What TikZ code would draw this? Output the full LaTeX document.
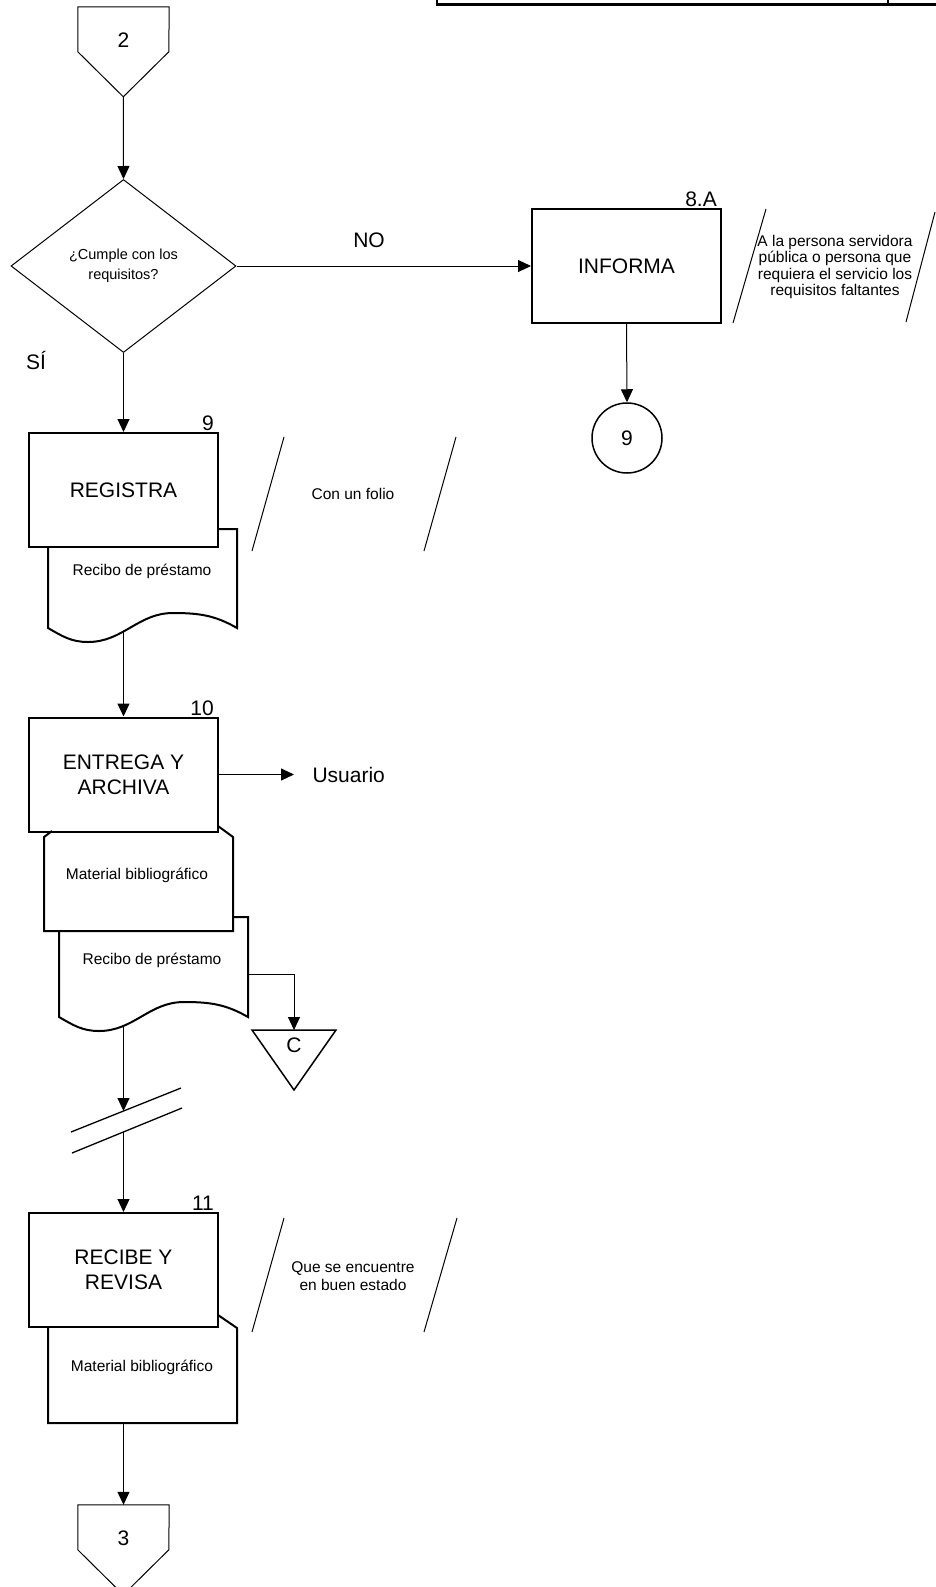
\documentclass[tikz,border=0pt]{standalone}
\usepackage{fontspec}
\setmainfont{Liberation Sans}
\usetikzlibrary{shapes.geometric, arrows.meta, positioning}
\tikzset{
    >={Triangle[length=13pt, width=12pt]}, % filled arrow heads
    every node/.style={font=\fontsize{21}{25}\selectfont, align=center}, % big labels
    smalltext/.style={font=\fontsize{15.5}{18}\selectfont}, % notes and documents
    process/.style={draw, line width=2pt, fill=white, minimum width=189pt, minimum height=114pt, inner sep=0pt},
    decision/.style={diamond, draw, line width=1pt, aspect=1.3, minimum width=225pt, minimum height=173pt, inner sep=0pt},
    offpage/.style={minimum width=91pt, minimum height=66pt, inner sep=0pt},
    onpage/.style={circle, draw, line width=1.5pt, minimum size=70pt, inner sep=0pt},
    stepnum/.style={anchor=south east, inner sep=1pt, xshift=-4pt},
    flow/.style={line width=1pt},
    doc/.style={line width=2pt},
    slash/.style={line width=1pt},
}
\begin{document}
\begin{tikzpicture}[x=1pt, y=1pt]
    \useasboundingbox (0,0) rectangle (935,-1587);
    % bit of the table above
    \draw[line width=2.5pt] (437,5) -- (437,-4.5) -- (940,-4.5) (888,5) -- (888,-4.5);

    \node[offpage] (off2) at (123.5,-40) {2};
    \draw[flow] (off2.north west) -- ++(0,-45) -- ++(45.5,-45) coordinate (off2tip) -- ++(45.5,45) -- (off2.north east) -- cycle;

    \node[decision, font=\fontsize{14.5}{20}\selectfont] (dec) at (123.5,-266) {¿Cumple con los\\requisitos?};
    \node (si) at (36,-360) {SÍ};
    \node[process, label={[stepnum]north east:8.A}] (inf) at (626.5,-266) {INFORMA};
    \node[onpage] (c9) at (627,-438) {9};
    \node[smalltext, font=\fontsize{15.5}{16.5}\selectfont] (note1) at (835,-267) {A la persona servidora\\pública o persona que\\requiera el servicio los\\requisitos faltantes};
    \draw[slash] (766,-209) -- (733,-323) (935,-212) -- (906,-322);

    % registra
    \node[process, label={[stepnum]north east:9}] (reg) at (123.5,-490) {REGISTRA};
    \draw[doc] (218,-529) -- (237,-529) -- (237,-628) to[out=150,in=0] (173,-613) to[out=180,in=0] (88,-642) to[out=180,in=-30] (48,-628) -- (48,-547);
    \node[smalltext] (rec1) at (142,-571) {Recibo de préstamo};
    \coordinate (rec1b) at (123.5,-632);
    \node[smalltext] (note2) at (353,-494) {Con un folio};
    \draw[slash] (284,-437) -- (252,-551) (456,-437) -- (424,-551);

    % entrega
    \node[process, label={[stepnum]north east:10}] (ent) at (123.5,-774.5) {ENTREGA Y\\ARCHIVA};
    \node[right=90pt of ent.east, anchor=west] (usr) {Usuario};
    \draw[doc] (218,-826) -- (233,-837) -- (233,-931) -- (44,-931) -- (44,-837) -- (52,-831);
    \node[smalltext] (mat1) at (137,-875) {Material bibliográfico};
    \draw[doc] (233,-917) -- (248,-917) -- (248,-1017) to[out=150,in=0] (184,-1002) to[out=180,in=0] (99,-1031) to[out=180,in=-30] (59,-1017) -- (59,-931);
    \node[smalltext] (rec2) at (152,-960) {Recibo de préstamo};
    \coordinate (rec2r) at (248,-974);
    \coordinate (rec2b) at (123.5,-1027);
    \coordinate (ctop) at (294,-1030);
    \draw[line width=1.5pt] (ctop) ++(-42,0) -- ++(84,0) -- ++(-42,-60) -- cycle;
    \node (cc) at (294,-1045) {C};

    % corte
    \draw[line width=1.3pt] (71,-1132) -- (181,-1088) (72,-1153) -- (182,-1108);
    \coordinate (brk1) at (123.5,-1111);
    \coordinate (brk2) at (123.5,-1132);

    % recibe
    \node[process, label={[stepnum]north east:11}] (rcb) at (123.5,-1270) {RECIBE Y\\REVISA};
    \draw[doc] (218,-1315) -- (237,-1328) -- (237,-1423) -- (48,-1423) -- (48,-1327);
    \node[smalltext] (mat2) at (142,-1367) {Material bibliográfico};
    \coordinate (mat2b) at (123.5,-1423);
    \node[smalltext] (note3) at (353,-1276) {Que se encuentre\\en buen estado};
    \draw[slash] (284,-1218) -- (252,-1332) (457,-1218) -- (424,-1332);

    \node[offpage] (off3) at (123.5,-1538) {3};
    \draw[flow] (off3.north west) -- ++(0,-45) -- ++(45.5,-45) -- ++(45.5,45) -- (off3.north east) -- cycle;

    \draw[flow, ->] (off2tip) -- (dec.north);
    \draw[flow, ->] (dec.east) -- node[pos=0.45, above=14pt] (no) {NO} (inf.west);
    \draw[flow, ->] (inf.south) -- (c9.north);
    \draw[flow, ->] (dec.south) -- (reg.north);
    \draw[flow, ->] (rec1b) -- (ent.north);
    \draw[flow, ->, shorten >=15pt] (ent.east) -- (usr.west);
    \draw[flow, ->] (rec2r) -| (ctop);
    \draw[flow, ->] (rec2b) -- (brk1);
    \draw[flow, ->] (brk2) -- (rcb.north);
    \draw[flow, ->] (mat2b) -- (off3.north);
\end{tikzpicture}
\end{document}
